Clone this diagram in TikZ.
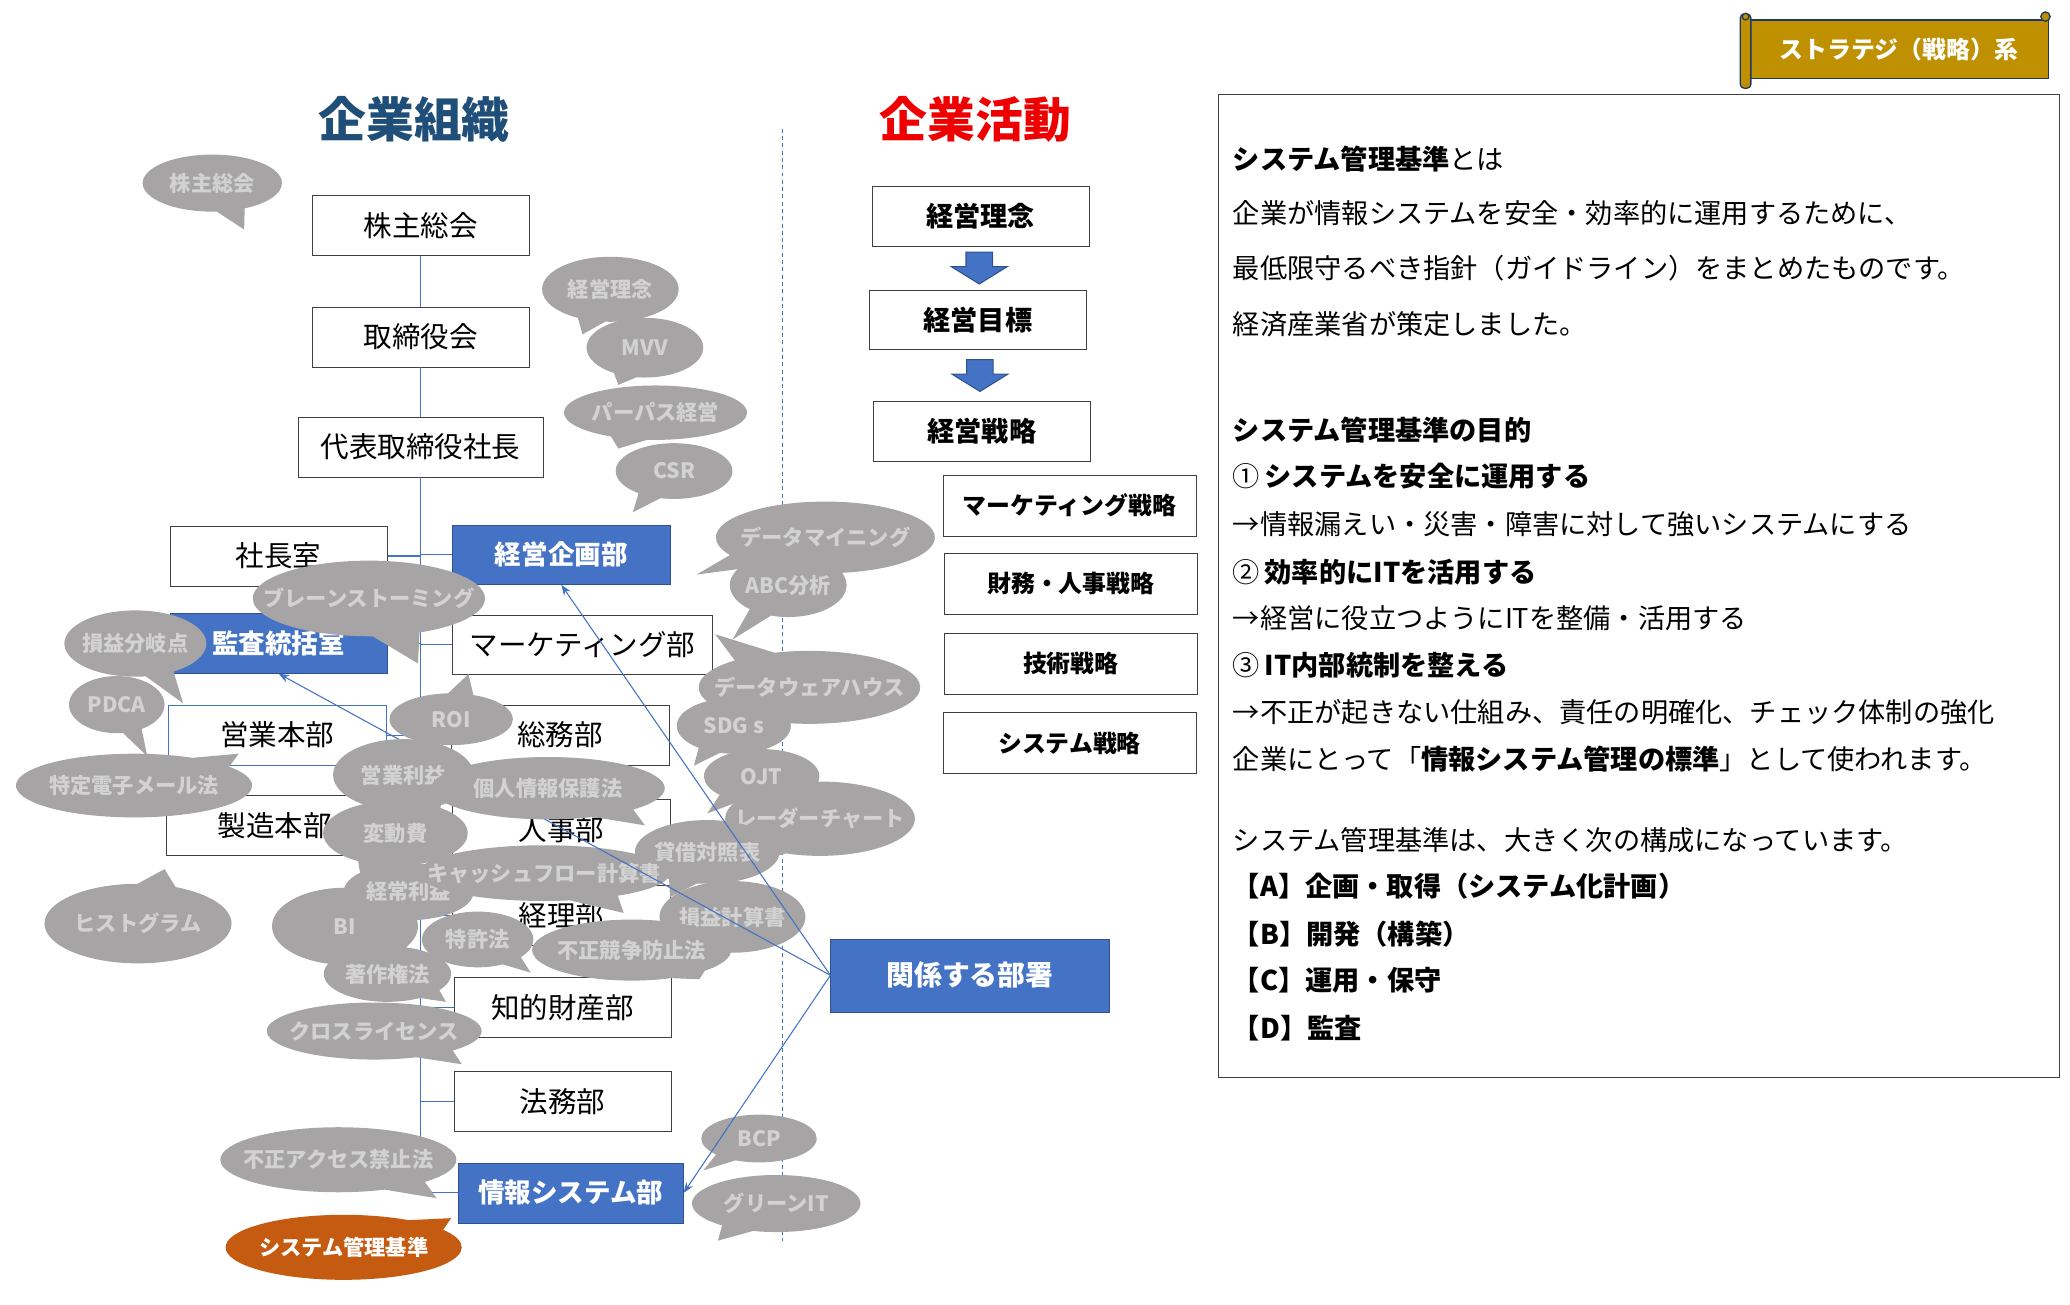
\documentclass[tikz,border=0pt]{standalone}
\usepackage{fontspec}
\setmainfont{Noto Sans CJK JP}
\usetikzlibrary{shapes,shapes.callouts,arrows.meta,positioning}

\definecolor{orgblue}{HTML}{4472C4}
\definecolor{orgedge}{HTML}{2F528F}
\definecolor{bubgray}{HTML}{A6A4A4}
\definecolor{bubtext}{HTML}{D2D2D2}
\definecolor{bubred}{HTML}{C55A11}
\definecolor{titleblue}{HTML}{1F4E79}
\definecolor{titlered}{HTML}{EE0000}
\definecolor{scrollgold}{HTML}{BF9000}
\definecolor{scrolledge}{HTML}{203864}

\newcommand{\bt}[1]{\makebox[0pt]{#1}}

\begin{document}
\begin{tikzpicture}[x=1pt,y=-1pt,
  orgbox/.style={draw=black!75,fill=white,minimum width=164,minimum height=45,inner sep=0pt,font=\fontsize{21.5}{24}\selectfont},
  keybox/.style={orgbox,draw=orgedge,fill=orgblue,text=white,font=\bfseries\fontsize{20}{24}\selectfont},
  planbox/.style={orgbox,font=\bfseries\fontsize{20.5}{24}\selectfont},
  subbox/.style={orgbox,minimum width=191,minimum height=46,font=\bfseries\fontsize{18}{22}\selectfont},
  orgline/.style={draw=orgblue,line width=0.8pt},
  linkline/.style={draw=orgblue,line width=0.8pt,-{Stealth[length=8pt,width=6pt]}},
  blockarrow/.style={fill=orgblue,draw=orgedge,line width=0.8pt},
  bubble/.style={ellipse callout,fill=bubgray,text=bubtext,inner sep=0pt,callout pointer arc=24,font=\bfseries\fontsize{16}{18}\selectfont},
  memotext/.style={anchor=west,inner sep=0pt,font=\fontsize{20.5}{24}\selectfont},
]
\path[use as bounding box] (0,0) rectangle (1560,983);

% titles
\node[font=\bfseries\fontsize{36}{40}\selectfont,text=titleblue] (soshiki) at (312,90) {企業組織};
\node[font=\bfseries\fontsize{36}{40}\selectfont,text=titlered] (katsudo) at (735,90) {企業活動};

% org chart
\node[orgbox] (kabu) at (317,170) {株主総会};
\node[orgbox] (tori) at (317,254) {取締役会};
\node[orgbox,minimum width=185] (daihyo) at (317,337) {代表取締役社長};
\node[orgbox] (shacho) at (210,419) {社長室};
\node[keybox] (kikaku) at (423,418) {経営企画部};
\node[keybox] (kansa) at (210,485) {監査統括室};
\node[orgbox,minimum width=196] (mkt) at (439,486) {マーケティング部};
\node[orgbox,draw=orgblue] (eigyo) at (209,554) {営業本部};
\node[orgbox] (somu) at (422,554) {総務部};
\node[orgbox] (seizo) at (207,622) {製造本部};
\node[orgbox] (jinji) at (423,625) {人事部};
\node[orgbox] (keiri) at (423,690) {経理部};
\node[orgbox] (chizai) at (424,759) {知的財産部};
\node[orgbox] (homu) at (424,830) {法務部};
\node[keybox,minimum width=170] (joho) at (430,899) {情報システム部};

\draw[orgline] (kabu.south) -- (tori.north) (tori.south) -- (daihyo.north);
\draw[orgline] (daihyo.south) -- (daihyo.south |- joho.west) -- (joho.west);
\foreach \n in {shacho,kansa,eigyo,seizo}
  \draw[orgline] (\n.east) -- (\n.east -| daihyo.south);
\foreach \n in {kikaku,mkt,somu,jinji,keiri,chizai,homu}
  \draw[orgline] (\n.west) -- (\n.west -| daihyo.south);

% business activities
\node[planbox] (rinen) at (739,163) {経営理念};
\node[planbox] (mokuhyo) at (737,241) {経営目標};
\node[planbox] (senryaku) at (740,325) {経営戦略};
\node[subbox] (mkts) at (806,381) {マーケティング戦略};
\node[subbox] (zaimu) at (807,440) {財務・人事戦略};
\node[subbox] (gijutsu) at (807,500) {技術戦略};
\node[subbox] (syss) at (806,560) {システム戦略};
\node[keybox,minimum width=210,minimum height=55,font=\bfseries\fontsize{21}{24}\selectfont] (kankei) at (731,735) {関係する部署};

\path (rinen.south) -- (mokuhyo.north) coordinate[midway] (ar1);
\path (mokuhyo.south) -- (senryaku.north) coordinate[midway] (ar2);
\foreach \a in {ar1,ar2}
  \draw[blockarrow,shift={(\a)}] (-10,-12) -- (10,-12) -- (10,-1) -- (21,-1)
    -- (0,12) -- (-21,-1) -- (-10,-1) -- cycle;

\coordinate (dtop) at (590,97);
\coordinate (dbot) at (590,935);
\draw[orgline,line width=0.7pt,dash pattern=on 3pt off 2.5pt] (dtop) -- (dbot);

% category banner
\node[fill=scrollgold,draw=scrolledge,line width=1pt,minimum width=226,minimum height=44,text=white,font=\bfseries\fontsize{18}{20}\selectfont] (cat) at (1431,37) {ストラテジ（戦略）系};
\draw[fill=scrollgold,draw=scrolledge,line width=1pt,rounded corners=3pt] ([xshift=-6pt,yshift=4pt]cat.north west) rectangle ([xshift=2pt,yshift=-7pt]cat.south west);
\draw[fill=scrollgold,draw=scrolledge,line width=1pt] ([xshift=-2pt,yshift=2pt]cat.north west) circle (2.5);
\draw[fill=scrollgold,draw=scrolledge,line width=1pt] ([xshift=-3pt,yshift=2pt]cat.north east) circle (3.5);

% memo
\node[draw=black!75,minimum width=634,minimum height=741,anchor=north west] (memo) at (918,71) {};
\node[memotext] (m1) at (929,120) {{\bfseries システム管理基準}とは};
\node[memotext] (m2) at (929,161) {企業が情報システムを安全・効率的に運用するために、};
\node[memotext] (m3) at (929,202) {最低限守るべき指針（ガイドライン）をまとめたものです。};
\node[memotext] (m4) at (929,244) {経済産業省が策定しました。};
\node[memotext] (m5) at (929,324) {\bfseries システム管理基準の目的};
\node[memotext] (m6) at (929,359) {①\,{\bfseries システムを安全に運用する}};
\node[memotext] (m7) at (929,395) {→情報漏えい・災害・障害に対して強いシステムにする};
\node[memotext] (m8) at (929,431) {②\,{\bfseries 効率的にITを活用する}};
\node[memotext] (m9) at (929,466) {→経営に役立つようにITを整備・活用する};
\node[memotext] (m10) at (929,501) {③\,{\bfseries IT内部統制を整える}};
\node[memotext] (m11) at (929,537) {→不正が起きない仕組み、責任の明確化、チェック体制の強化};
\node[memotext] (m12) at (929,572) {企業にとって「{\bfseries 情報システム管理の標準}」として使われます。};
\node[memotext] (m13) at (929,633) {システム管理基準は、大きく次の構成になっています。};
\node[memotext] (m14) at (929,668) {\bfseries【A】企画・取得（システム化計画）};
\node[memotext] (m15) at (929,704) {\bfseries【B】開発（構築）};
\node[memotext] (m16) at (929,739) {\bfseries【C】運用・保守};
\node[memotext] (m17) at (929,775) {\bfseries【D】監査};

% keyword bubbles
\node[bubble,minimum width=105,minimum height=43,callout absolute pointer={(184,173)}] (bkabu) at (160,138) {\bt{株主総会}};
\node[bubble,minimum width=103,minimum height=49,callout absolute pointer={(439,252)}] (brinen) at (460,218) {\bt{経営理念}};
\node[bubble,minimum width=88,minimum height=45,callout absolute pointer={(466,290)}] (bmvv) at (486,262) {\bt{MVV}};
\node[bubble,minimum width=138,minimum height=41,callout absolute pointer={(466,338)}] (bpurpose) at (494,311) {\bt{パーパス経営}};
\node[bubble,minimum width=88,minimum height=42,callout absolute pointer={(477,386)}] (bcsr) at (508,355) {\bt{CSR}};
\node[bubble,minimum width=165,minimum height=54,callout absolute pointer={(525,433)}] (bmining) at (622,405) {\bt{データマイニング}};
\node[bubble,minimum width=88,minimum height=48,callout absolute pointer={(552,482)}] (babc) at (594,441) {\bt{ABC分析}};
\node[bubble,minimum width=167,minimum height=55,callout absolute pointer={(539,478)}] (bdwh) at (610,518) {\bt{データウェアハウス}};
\node[bubble,minimum width=86,minimum height=42,callout absolute pointer={(523,577)}] (bsdgs) at (553,547) {\bt{SDG s}};
\node[bubble,minimum width=87,minimum height=41,callout absolute pointer={(533,613)}] (bojt) at (574,585) {\bt{OJT}};
\node[bubble,minimum width=143,minimum height=56,callout absolute pointer={(560,652)}] (bradar) at (618,617) {\bt{レーダーチャート}};
\node[bubble,minimum width=109,minimum height=48,callout absolute pointer={(505,676)}] (bbs) at (533,642) {\bt{貸借対照表}};
\node[bubble,minimum width=110,minimum height=54,callout absolute pointer={(520,726)}] (bpl) at (552,691) {\bt{損益計算書}};
\node[bubble,minimum width=175,minimum height=57,callout absolute pointer={(315,500)}] (bbrain) at (278,451) {\bt{ブレーンストーミング}};
\node[bubble,minimum width=107,minimum height=50,callout absolute pointer={(138,530)}] (bbep) at (102,485) {\bt{損益分岐点}};
\node[bubble,minimum width=72,minimum height=43,callout absolute pointer={(111,570)}] (bpdca) at (88,531) {\bt{PDCA}};
\node[bubble,minimum width=178,minimum height=48,callout absolute pointer={(180,568)}] (bspam) at (101,592) {\bt{特定電子メール法}};
\node[bubble,minimum width=141,minimum height=60,callout absolute pointer={(124,655)}] (bhist) at (104,696) {\bt{ヒストグラム}};
\node[bubble,minimum width=93,minimum height=39,callout absolute pointer={(353,508)}] (broi) at (340,542) {\bt{ROI}};
\node[bubble,minimum width=109,minimum height=49,callout absolute pointer={(272,662)}] (bvar) at (298,628) {\bt{変動費}};
\node[bubble,minimum width=110,minimum height=58,callout absolute pointer={(312,730)}] (bbi) at (260,698) {\bt{BI}};
\node[bubble,minimum width=98,minimum height=43,callout absolute pointer={(286,702)}] (bordinary) at (308,672) {\bt{経常利益}};
\node[bubble,minimum width=190,minimum height=42,callout absolute pointer={(470,688)}] (bcf) at (410,658) {\bt{キャッシュフロー計算書}};
\node[bubble,minimum width=84,minimum height=42,callout absolute pointer={(400,733)}] (bpatent) at (360,708) {\bt{特許法}};
\node[bubble,minimum width=150,minimum height=46,callout absolute pointer={(527,738)}] (bunfair) at (476,716) {\bt{不正競争防止法}};
\node[bubble,minimum width=96,minimum height=42,callout absolute pointer={(336,755)}] (bcopy) at (292,734) {\bt{著作権法}};
\node[bubble,minimum width=162,minimum height=43,callout absolute pointer={(348,802)}] (bcross) at (282,777) {\bt{クロスライセンス}};
\node[bubble,minimum width=178,minimum height=49,callout absolute pointer={(329,903)}] (baccess) at (255,874) {\bt{不正アクセス禁止法}};
\node[bubble,minimum width=87,minimum height=36,callout absolute pointer={(530,882)}] (bbcp) at (572,858) {\bt{BCP}};
\node[bubble,minimum width=127,minimum height=43,callout absolute pointer={(541,935)}] (bgreen) at (585,907) {\bt{グリーンIT}};
\node[bubble,fill=bubred,text=white,minimum width=178,minimum height=49,callout absolute pointer={(340,918)}] (bsys) at (259,940) {\bt{システム管理基準}};

% related departments
\draw[linkline] (kankei.west) -- (kikaku.south);
\draw[linkline] (kankei.west) -- (kansa.south);
\draw[linkline] (kankei.west) -- (joho.east);

\node[bubble,minimum width=106,minimum height=54,callout absolute pointer={(330,620)}] (bprofit) at (304,584) {\bt{営業利益}};
\node[bubble,minimum width=176,minimum height=47,callout absolute pointer={(486,622)}] (bprivacy) at (413,594) {\bt{個人情報保護法}};
\end{tikzpicture}
\end{document}
